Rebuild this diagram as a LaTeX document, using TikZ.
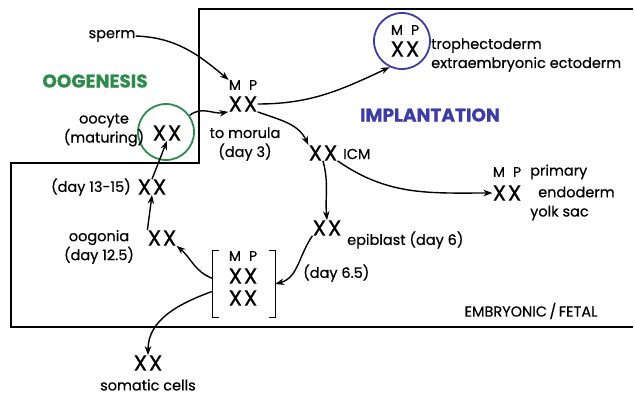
\documentclass[tikz,border=0pt]{standalone}
\usepackage{fontspec}
\setmainfont{Poppins}[FakeBold=0.5]
\usetikzlibrary{arrows.meta}
\definecolor{oogreen}{RGB}{45,140,75}
\definecolor{impblue}{RGB}{60,60,165}
\newcommand{\XXg}{X\kern1.5pt X}
\newcommand{\MPg}{M\hspace{8pt}P}
\begin{document}
\begin{tikzpicture}[x=1pt,y=-1pt,
  txt/.style={inner sep=0pt,font=\fontsize{14.5}{19}\selectfont},
  xx/.style={inner sep=0pt,font=\fontsize{22}{22}\selectfont},
  mp/.style={inner sep=0pt,font=\fontsize{14}{14}\selectfont},
  title/.style={inner sep=0pt,font=\fontsize{18.5}{18.5}\selectfont\bfseries},
  arr/.style={line width=1.4pt,-{Stealth[length=9pt,width=6.5pt]}},
  box/.style={line width=1.5pt}]
\useasboundingbox (0,0) rectangle (635,396);
\draw[box] (633,9) -- (199,9) -- (199,163) -- (11,163) -- (11,327) -- (633,327);
% labels
\node[title,text=oogreen] (oog) at (95,81) {OOGENESIS};
\node[title,text=impblue] (imp) at (430,115) {IMPLANTATION};
\node[txt] (emb) at (531,311) {EMBRYONIC\,/\,FETAL};
\node[txt] (sperm) at (112,36) {sperm};
% morula
\node[xx] (m) at (243,104) {\XXg};
\node[mp] (mpm) at (243,85) {\MPg};
\node[txt,align=center] (mtxt) at (245,144) {to morula\\(day 3)};
% oocyte
\node[circle,draw=oogreen,line width=1.8pt,minimum size=56pt,inner sep=0pt] (oc) at (166,132) {};
\node[xx] (ocx) at (167,133) {\XXg};
\node[txt,align=center] (octxt) at (104,130) {oocyte\\(maturing)};
% day 13-15
\node[xx] (d13) at (152,187) {\XXg};
\node[txt,anchor=east] (d13t) at (131,187) {(day 13-15)};
% oogonia
\node[xx] (og) at (162,238) {\XXg};
\node[txt,align=center] (ogt) at (99,247) {oogonia\\(day 12.5)};
% bracket
\node[inner sep=0pt,minimum width=62pt,minimum height=66pt] (br) at (244,284) {};
\node[mp] (brmp) at (243,256) {\MPg};
\node[xx] (brx1) at (243,276) {\XXg};
\node[xx] (brx2) at (243,298) {\XXg};
\draw[line width=1.3pt] ([xshift=6pt]br.north west) -- (br.north west) -- (br.south west) -- ([xshift=6pt]br.south west);
\draw[line width=1.3pt] ([xshift=-6pt]br.north east) -- (br.north east) -- (br.south east) -- ([xshift=-6pt]br.south east);
% somatic
\node[xx] (so) at (148,363) {\XXg};
\node[txt] (sot) at (148,385) {somatic cells};
% trophectoderm
\node[circle,draw=impblue,line width=1.8pt,minimum size=56pt,inner sep=0pt] (tc) at (402,41) {};
\node[mp] (tmp) at (405,30) {\MPg};
\node[xx] (tx) at (405,49) {\XXg};
\node[txt,anchor=west,align=left] (tt) at (431,55) {trophectoderm\\extraembryonic ectoderm};
% ICM
\node[xx] (icm) at (323,153) {\XXg};
\node[txt,anchor=west] (icmt) at (343,154) {ICM};
% endoderm
\node[xx] (en) at (507,193) {\XXg};
\node[mp] (enmp) at (507,172) {\MPg};
\node[txt,anchor=west] (ent1) at (530,172) {primary};
\node[txt,anchor=west] (ent2) at (538,192) {endoderm};
\node[txt,anchor=west] (ent3) at (530,213) {yolk sac};
% epiblast
\node[xx] (ep) at (327,228) {\XXg};
\node[txt,anchor=west] (ept) at (347,240) {epiblast (day 6)};
\node[txt,anchor=west] (d65) at (303,273) {(day 6.5)};
% arrows
\draw[arr] (sperm.east) to[out=-2,in=140] (mpm.north west);
\draw[arr] (oc.35) to[out=40,in=190] (m.south west);
\draw[arr] (d13.north) -- (ocx.south);
\draw[arr] (og.north west) -- (d13.south);
\draw[arr] (br.170) to[out=160,in=-40] (og.south east);
\draw[arr] (br.193) to[out=200,in=90] (so.north);
\draw[arr] (m.east) to[out=0,in=205] (tc.245);
\draw[arr] (m.south east) to[out=-20,in=115] (icm.north west);
\draw[arr] (icm.south east) to[out=-35,in=180] (en.west);
\draw[arr] (icm.south) to[out=-75,in=95] (ep.north);
\draw[arr] (ep.south west) to[out=235,in=15] (br.east);
\end{tikzpicture}
\end{document}
